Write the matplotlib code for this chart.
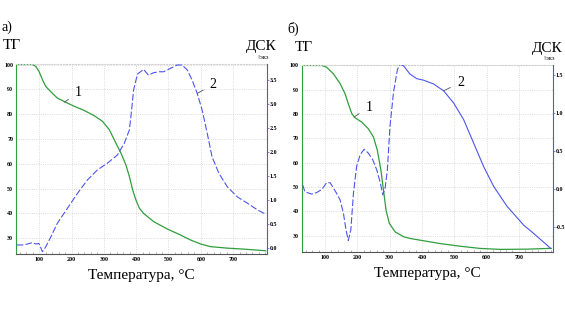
import numpy as np
import matplotlib
matplotlib.use('Agg')
import matplotlib.pyplot as plt
from matplotlib.pyplot import rcParams
from matplotlib.ticker import MultipleLocator

rcParams['font.family'] = ['Liberation Serif', 'DejaVu Serif']

# panel a) TG (green) and DSC (blue)
a_tg_t = [28, 79, 89, 99, 110, 120, 136, 156, 182, 208, 239, 270, 296, 317, 337, 353, 368, 379, 389, 399, 410, 423,
          454, 495, 537, 568, 599, 630, 682, 733, 795, 801]
a_tg_v = [100, 100, 99.3, 97.3, 93.9, 91.2, 89.0, 86.5, 84.8, 83.2, 81.5, 79.4, 77.1, 73.7, 68.4, 64.3, 59.6, 54.9, 49.5, 45.5, 42.1, 40.0,
          36.7, 33.8, 31.3, 29.3, 27.7, 26.6, 26.0, 25.6, 25.0, 24.9]
a_dsc_t = [30, 53, 79, 89, 99, 110, 120, 136, 156, 187, 218, 249, 280, 311, 342, 363, 379, 386, 392, 404, 423, 438, 454, 470, 485,
           506, 527, 542, 558, 573, 589, 604, 620, 635, 656, 682, 713, 744, 775, 801]
a_dsc_v = [0.07, 0.07, 0.12, 0.09, 0.10, -0.07, 0.03, 0.24, 0.52, 0.83, 1.14, 1.42, 1.63, 1.77, 1.94, 2.18, 2.46, 2.88, 3.29, 3.62, 3.72, 3.60, 3.65, 3.67, 3.67,
           3.74, 3.81, 3.81, 3.71, 3.50, 3.22, 2.88, 2.39, 1.90, 1.56, 1.28, 1.07, 0.94, 0.80, 0.71]

# panel б)
b_tg_t = [28, 90, 105, 126, 147, 162, 172, 183, 193, 214, 234, 250, 262, 273, 281, 289, 299, 317, 343, 363, 394, 456, 518, 580,
          642, 725, 792, 800]
b_tg_v = [100, 100, 99.3, 96.6, 92.5, 88.4, 84.3, 80.2, 78.5, 76.7, 74.0, 70.6, 65.1, 56.9, 48.7, 40.5, 35.1, 31.6, 29.6, 28.9, 28.2, 26.8, 25.7, 24.8,
          24.4, 24.5, 24.8, 24.8]
b_dsc_t = [31, 38, 59, 74, 90, 105, 116, 126, 136, 147, 157, 165, 172, 180, 188, 198, 209, 221, 234, 248, 260, 271, 279, 286, 293,
           301, 312, 324, 332, 343, 363, 384, 405, 436, 467, 498, 529, 560, 591, 622, 663, 715, 746, 797]
b_dsc_v = [0.05, -0.04, -0.07, -0.05, -0.01, 0.08, 0.08, 0.01, -0.06, -0.15, -0.32, -0.54, -0.68, -0.54, -0.06, 0.30, 0.45, 0.52, 0.47, 0.38, 0.25, 0.08, -0.08, 0.01, 0.25,
           0.82, 1.27, 1.57, 1.64, 1.62, 1.51, 1.45, 1.43, 1.38, 1.29, 1.13, 0.91, 0.60, 0.29, 0.03, -0.23, -0.48, -0.59, -0.78]

xticks = [100, 200, 300, 400, 500, 600, 700]
tg_ticks = [30, 40, 50, 60, 70, 80, 90, 100]
a_dsc_ticks = [0.0, 0.5, 1.0, 1.5, 2.0, 2.5, 3.0, 3.5]
b_dsc_ticks = [-0.5, 0.0, 0.5, 1.0, 1.5]

green = '#2f9e3c'
blue = '#4d55ee'
tickfont = dict(fontsize=4.3, fontweight='bold')

fig = plt.figure(figsize=(5.65, 3.14), dpi=100)


def panel(rect, tg_t, tg_v, dsc_t, dsc_v, ylim1, ylim2, dsc_ticks, label, tgx, split=None):
    ax = fig.add_axes(rect)
    ax.plot(tg_t, tg_v, color=green, lw=0.9)
    ax.set_xlim(28, 804)
    ax.set_ylim(*ylim1)
    ax.set_xticks(xticks)
    ax.set_yticks(tg_ticks)
    ax.set_xticklabels([str(v) for v in xticks], **tickfont)
    ax.set_yticklabels([str(v) for v in tg_ticks], **tickfont)
    ax.xaxis.set_minor_locator(MultipleLocator(20))
    ax.tick_params(length=0, pad=2)
    ax.tick_params(axis='x', which='minor', length=1.5, width=0.4, color='#777777', direction='in')
    ax.grid(True, color='#d0d0d0', ls=':', lw=0.6)
    ax.spines['left'].set_color(green)
    ax.spines['top'].set_color('#d0d0d0')
    ax.spines['top'].set_linestyle(':')
    ax.spines['right'].set_visible(False)
    ax.spines['bottom'].set_color('#555555')
    ax.set_xlabel('Температура, °C', fontsize=11, labelpad=5)

    ax2 = ax.twinx()
    if split is None:
        ax2.plot(dsc_t, dsc_v, color=blue, lw=0.8, ls=(0, (6, 2)))
    else:
        ax2.plot(dsc_t[:split + 1], dsc_v[:split + 1], color=blue, lw=0.8, ls=(0, (6, 2)))
        ax2.plot(dsc_t[split:], dsc_v[split:], color=blue, lw=0.8)
    ax2.set_ylim(*ylim2)
    ax2.set_yticks(dsc_ticks)
    ax2.set_yticklabels(['%.1f' % v for v in dsc_ticks], **tickfont)
    ax2.tick_params(axis='y', length=1.5, width=0.5, color=blue, pad=0.5)
    for s in ['left', 'top', 'bottom']:
        ax2.spines[s].set_visible(False)
    ax2.spines['right'].set_color(blue)

    ax.text(label[1], 1.195, label[0], transform=ax.transAxes, fontsize=10, va='center', ha='left')
    ax.text(tgx, 1.095, 'ТГ', transform=ax.transAxes, fontsize=11, va='center', ha='left')
    ax.text(0.98, 1.09, 'ДСК', transform=ax.transAxes, fontsize=11, va='center', ha='center')
    ax.text(0.985, 1.037, '↑экз', transform=ax.transAxes, fontsize=3.5, va='center', ha='center',
            family=['DejaVu Serif'])
    return ax, ax2


axa, axa2 = panel([0.0283, 0.190, 0.4437, 0.606], a_tg_t, a_tg_v, a_dsc_t, a_dsc_v,
                  (23.5, 100.2), (-0.125, 3.83), a_dsc_ticks, ('а)', -0.058), -0.052)
axb, axb2 = panel([0.534, 0.198, 0.444, 0.595], b_tg_t, b_tg_v, b_dsc_t, b_dsc_v,
                  (23.4, 100.2), (-0.83, 1.63), b_dsc_ticks, ('б)', -0.058), -0.027, split=28)

# curve numbers with leader lines
lead = dict(arrowstyle='-', color='#555555', lw=0.6, shrinkB=0, shrinkA=3)
axa.annotate('1', xy=(177, 84.8), xytext=(210, 88.6), fontsize=10, va='center', ha='left', arrowprops=lead)
axa2.annotate('2', xy=(589, 3.22), xytext=(628, 3.40), fontsize=10, va='center', ha='left', arrowprops=lead)
axb.annotate('1', xy=(190, 78.8), xytext=(225, 82.9), fontsize=10, va='center', ha='left', arrowprops=lead)
axb2.annotate('2', xy=(467, 1.29), xytext=(508, 1.40), fontsize=10, va='center', ha='left', arrowprops=lead)

plt.savefig('out.png', dpi=100)
plt.close()
